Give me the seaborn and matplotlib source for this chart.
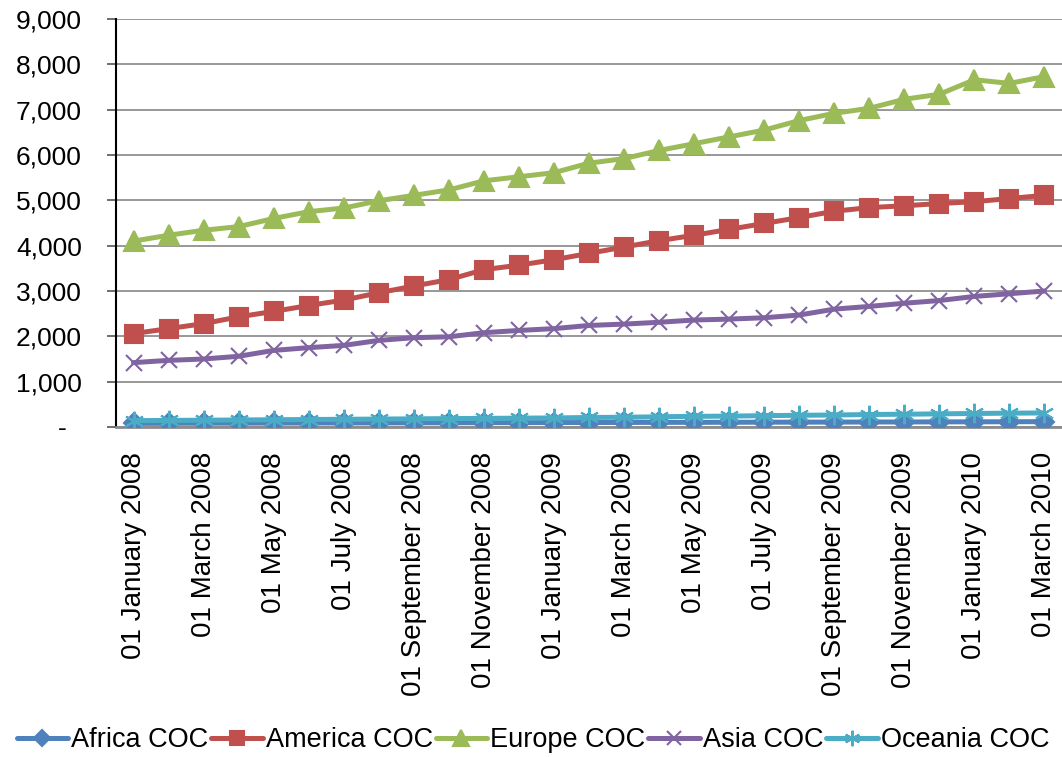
import pandas as pd
import numpy as np
import seaborn as sns
import matplotlib.pyplot as plt
from matplotlib.ticker import FuncFormatter

months = pd.date_range("2008-01-01", "2010-03-01", freq="MS")
africa = [80, 82, 84, 85, 86, 88, 89, 90, 92, 93, 95, 96, 98, 99, 100, 102, 103, 104, 106, 107, 108, 110, 111, 113, 114, 116, 118]
america = [2060, 2170, 2280, 2430, 2550, 2680, 2800, 2960, 3110, 3250, 3470, 3570, 3690, 3830, 3970, 4110, 4230, 4360, 4490, 4620, 4760, 4840, 4880, 4930, 4970, 5040, 5110]
europe = [4100, 4230, 4340, 4420, 4600, 4750, 4830, 4990, 5110, 5230, 5430, 5520, 5610, 5820, 5920, 6100, 6250, 6400, 6550, 6760, 6920, 7030, 7230, 7340, 7660, 7580, 7730]
asia = [1420, 1470, 1500, 1560, 1690, 1750, 1800, 1910, 1970, 1990, 2080, 2130, 2170, 2240, 2270, 2310, 2360, 2380, 2410, 2470, 2600, 2660, 2730, 2790, 2880, 2940, 3000]
oceania = [140, 145, 150, 155, 160, 165, 170, 175, 180, 185, 190, 195, 200, 210, 215, 225, 235, 240, 250, 258, 265, 275, 282, 290, 298, 305, 310]

series_names = ["Africa COC", "America COC", "Europe COC", "Asia COC", "Oceania COC"]
colors = ["#4F81BD", "#C0504D", "#9BBB59", "#8064A2", "#4BACC6"]
markers = ["D", "s", "^", "x", (6, 2, 0)]
msizes = [10, 13, 14, 12, 14]

df = pd.DataFrame({"idx": np.arange(len(months))})
for name, vals in zip(series_names, [africa, america, europe, asia, oceania]):
    df[name] = vals
long = df.melt(id_vars="idx", var_name="Series", value_name="Value")

sns.set_style("white")
plt.rcParams["font.family"] = ["Liberation Sans", "DejaVu Sans"]
plt.rcParams["font.size"] = 20
plt.rcParams["text.color"] = "black"
plt.rcParams["xtick.color"] = "black"
plt.rcParams["ytick.color"] = "black"

fig = plt.figure(figsize=(10.62, 7.57), dpi=100)
ax = fig.add_axes([116 / 1062, 1 - 427 / 757, (1062 - 116) / 1062, (427 - 19) / 757])

for i, name in enumerate(series_names):
    sub = long[long["Series"] == name]
    sns.lineplot(data=sub, x="idx", y="Value", ax=ax, color=colors[i], lw=3.6,
                 marker=markers[i], markersize=msizes[i], markeredgecolor=colors[i],
                 markeredgewidth=1.5, label=name, zorder=3 + (i == 4))

ax.set_xlim(-0.5, len(months) - 0.5)
ax.set_ylim(0, 9000)
ax.set_yticks(np.arange(0, 9001, 1000))
ax.yaxis.set_major_formatter(FuncFormatter(lambda v, p: "-  " if v == 0 else f"{int(v):,}"))
ax.grid(axis="y", color="#868686", lw=1.2)
ax.set_axisbelow(True)

tick_pos = list(range(0, len(months), 2))
ax.set_xticks(tick_pos)
ax.set_xticklabels([months[i].strftime("%d %B %Y") for i in tick_pos], rotation=90)
ax.tick_params(axis="x", length=0, pad=18, labelsize=20)
ax.tick_params(axis="y", length=6.5, width=1.2, direction="out", color="#555555",
               left=True, pad=18, labelsize=19)
ax.set_xlabel("")
ax.set_ylabel("")

for s in ["top", "right"]:
    ax.spines[s].set_visible(False)
ax.spines["left"].set_color("black")
ax.spines["left"].set_linewidth(1.5)
ax.spines["bottom"].set_color("#8c8c8c")
ax.spines["bottom"].set_linewidth(2)

ax.legend(loc="center", bbox_to_anchor=((533 - 116) / 946, (427 - 740) / 408),
          ncol=5, frameon=False, fontsize=19.5, handlelength=1.9, handletextpad=0.12,
          columnspacing=0.1, borderaxespad=0, markerscale=0.8)

fig.savefig("out.png", dpi=100)
